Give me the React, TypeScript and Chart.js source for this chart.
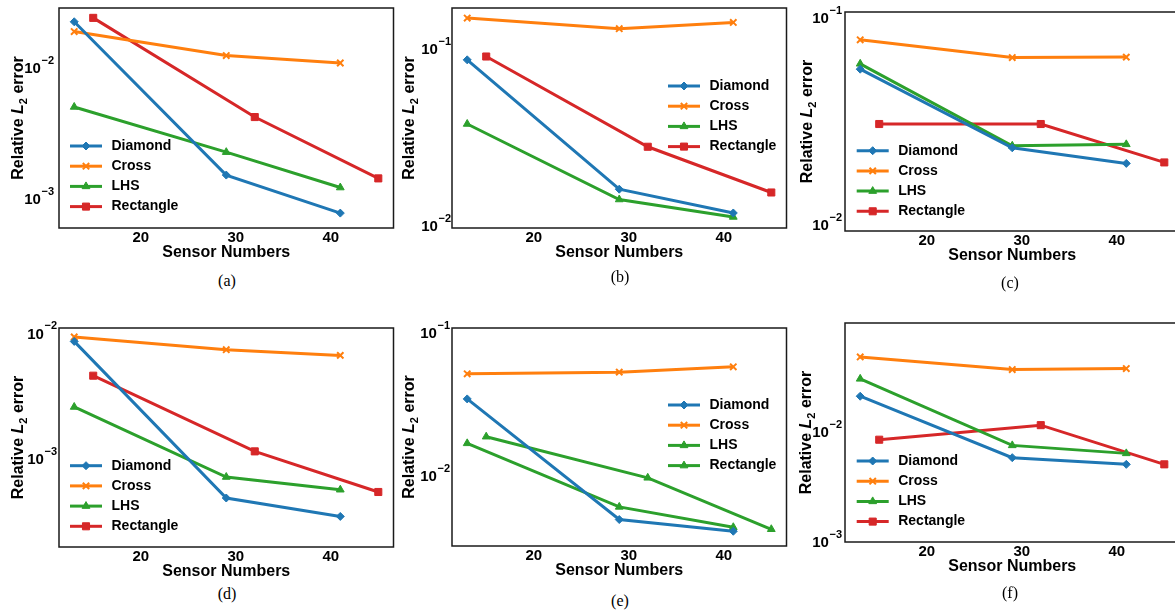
import React, { useEffect, useRef } from 'react';
import { Chart, registerables } from 'chart.js';
import { drawPoint } from 'chart.js/helpers';

Chart.register(...registerables);

const FAM = '"Liberation Sans", Arial, Helvetica, sans-serif';

// ---------- data ----------
const seriesNames = ['Diamond', 'Cross', 'LHS', 'Rectangle'];
const sensorsStd = [13, 29, 41];
const sensorsRect = [15, 32, 45];
const xTicks = [20, 30, 40];

// (a)
const aDiamond = [0.02227, 0.001517, 0.000779];
const aCross = [0.01875, 0.01232, 0.01081];
const aLHS = [0.005004, 0.002266, 0.001219];
const aRect = [0.02385, 0.004193, 0.001431];
// (b)
const bDiamond = [0.08687, 0.01616, 0.01186];
const bCross = [0.1496, 0.1302, 0.1413];
const bLHS = [0.03772, 0.01413, 0.01126];
const bRect = [0.0907, 0.02805, 0.01548];
// (c)
const cDiamond = [0.05651, 0.02352, 0.01976];
const cCross = [0.07845, 0.06435, 0.06465];
const cLHS = [0.05998, 0.02405, 0.02444];
const cRect = [0.03066, 0.03066, 0.01998];
// (d)
const dDiamond = [0.008636, 0.000488, 0.000348];
const dCross = [0.009361, 0.007415, 0.006679];
const dLHS = [0.002592, 0.000717, 0.000568];
const dRect = [0.004603, 0.001148, 0.000545];
// (e)
const eDiamond = [0.03458, 0.004951, 0.0041];
const eCross = [0.05182, 0.05324, 0.05801];
const eLHS = [0.0169, 0.006069, 0.004372];
const eRect = [0.01881, 0.009698, 0.004233];
// (f)
const fDiamond = [0.02118, 0.005821, 0.005058];
const fCross = [0.04841, 0.03709, 0.03788];
const fLHS = [0.03051, 0.007535, 0.00637];
const fRect = [0.008492, 0.01153, 0.005058];

// y tick values and their exponent labels (10^exp)
const yTicksA = [1e-2, 1e-3];
const yExpA = ['−2', '−3'];
const yTicksB = [1e-1, 1e-2];
const yExpB = ['−1', '−2'];

const captions = ['(a)', '(b)', '(c)', '(d)', '(e)', '(f)'];

// ---------- styles ----------
const STYLES: Record<string, any> = {
  Diamond: { color: '#1f77b4', pointStyle: 'rectRot', radius: 4, bw: 1 },
  Cross: { color: '#ff7f0e', pointStyle: 'crossRot', radius: 4.5, bw: 2 },
  LHS: { color: '#2ca02c', pointStyle: 'triangle', radius: 4.5, bw: 1 },
  Rectangle: { color: '#d62728', pointStyle: 'rect', radius: 5, bw: 1 },
};

const Y_AXIS_W = 59;
const X_AXIS_H = 34;
const PAD_T = 14;
const PAD_R = 4;

const panels = [
  { box: { l: 59, t: 8, r: 396, b: 228 }, yMinExp: -3.1885, yMaxExp: -1.5475, yTicks: yTicksA, yExp: yExpA,
    series: [aDiamond, aCross, aLHS, aRect], styles: ['Diamond', 'Cross', 'LHS', 'Rectangle'],
    legend: { dx: 11, dy: 138 }, yTitleOff: 42, yTickPad: 5, cap: { x: 227, y: 281 } },
  { box: { l: 452, t: 8, r: 789, b: 228 }, yMinExp: -2.0108, yMaxExp: -0.7684, yTicks: yTicksB, yExp: yExpB,
    series: [bDiamond, bCross, bLHS, bRect], styles: ['Diamond', 'Cross', 'LHS', 'Rectangle'],
    legend: { dx: 216, dy: 78 }, yTitleOff: 44, yTickPad: 1, cap: { x: 620, y: 277 } },
  { box: { l: 845, t: 12, r: 1182, b: 231 }, yMinExp: -2.0316, yMaxExp: -0.9709, yTicks: yTicksB, yExp: yExpB,
    series: [cDiamond, cCross, cLHS, cRect], styles: ['Diamond', 'Cross', 'LHS', 'Rectangle'],
    legend: { dx: 11.7, dy: 138.7 }, yTitleOff: 39, yTickPad: 3, cap: { x: 1010, y: 283 } },
  { box: { l: 59, t: 328, r: 396, b: 547 }, yMinExp: -3.702, yMaxExp: -1.957, yTicks: yTicksA, yExp: yExpA,
    series: [dDiamond, dCross, dLHS, dRect], styles: ['Diamond', 'Cross', 'LHS', 'Rectangle'],
    legend: { dx: 11, dy: 137.7 }, yTitleOff: 42, yTickPad: 2, cap: { x: 227, y: 594 } },
  { box: { l: 452, t: 328, r: 789, b: 546 }, yMinExp: -2.4905, yMaxExp: -0.9649, yTicks: yTicksB, yExp: yExpB,
    series: [eDiamond, eCross, eLHS, eRect], styles: ['Diamond', 'Cross', 'LHS', 'LHS'],
    legend: { dx: 216, dy: 77 }, yTitleOff: 44, yTickPad: 2, cap: { x: 620, y: 601 } },
  { box: { l: 845, t: 323, r: 1182, b: 542 }, yMinExp: -3.005, yMaxExp: -1.0055, yTicks: yTicksA, yExp: yExpA,
    series: [fDiamond, fCross, fLHS, fRect], styles: ['Diamond', 'Cross', 'LHS', 'Rectangle'],
    legend: { dx: 11.7, dy: 138 }, yTitleOff: 40, yTickPad: 3, cap: { x: 1010, y: 593 } },
];

// ---------- plugins ----------
const boxPlugin = {
  id: 'boxFrame',
  afterDraw(chart: any) {
    const { ctx, chartArea } = chart;
    ctx.save();
    ctx.strokeStyle = '#1a1a1a';
    ctx.lineWidth = 1.5;
    ctx.strokeRect(chartArea.left, chartArea.top, chartArea.right - chartArea.left, chartArea.bottom - chartArea.top);
    ctx.restore();
  },
};

const yTickPlugin = {
  id: 'yTickLabels',
  afterDraw(chart: any, _args: any, opts: any) {
    const { ctx, chartArea } = chart;
    const scale = chart.scales.y;
    ctx.save();
    ctx.fillStyle = '#000';
    ctx.textBaseline = 'alphabetic';
    ctx.textAlign = 'left';
    scale.ticks.forEach((t: any, i: number) => {
      const y = scale.getPixelForValue(t.value);
      const exp = opts.exps[i];
      ctx.font = `bold 11px ${FAM}`;
      const we = ctx.measureText(exp).width;
      ctx.font = `bold 15px ${FAM}`;
      const wb = ctx.measureText('10').width;
      const right = chartArea.left - opts.pad;
      const base = y + 5.4;
      ctx.fillText('10', right - we - wb - 0.5, base);
      ctx.font = `bold 11px ${FAM}`;
      ctx.fillText(exp, right - we, base - 9.3);
    });
    ctx.restore();
  },
};

const legendPlugin = {
  id: 'innerLegend',
  afterDraw(chart: any, _args: any, opts: any) {
    const { ctx, chartArea } = chart;
    const x0 = chartArea.left + opts.dx;
    const y0 = chartArea.top + opts.dy;
    chart.data.datasets.forEach((ds: any, i: number) => {
      const y = y0 + i * opts.gap;
      ctx.save();
      ctx.strokeStyle = ds.borderColor;
      ctx.lineWidth = 3;
      ctx.beginPath();
      ctx.moveTo(x0, y);
      ctx.lineTo(x0 + 32, y);
      ctx.stroke();
      ctx.fillStyle = ds.pointBackgroundColor;
      ctx.strokeStyle = ds.pointBorderColor;
      ctx.lineWidth = ds.pointBorderWidth;
      drawPoint(ctx, { pointStyle: ds.pointStyle, radius: ds.pointRadius, borderWidth: ds.pointBorderWidth, rotation: 0 } as any, x0 + 16, y);
      ctx.fillStyle = '#000';
      ctx.font = `bold 14px ${FAM}`;
      ctx.textBaseline = 'middle';
      ctx.textAlign = 'left';
      ctx.fillText(ds.label, x0 + 41.5, y);
      ctx.restore();
    });
  },
};

const yTitlePlugin = {
  id: 'yTitle',
  afterDraw(chart: any, _args: any, opts: any) {
    const { ctx, chartArea } = chart;
    const cx = chartArea.left - opts.offset;
    const cy = (chartArea.top + chartArea.bottom) / 2;
    const parts = [
      { t: 'Relative ', f: `bold 16px ${FAM}`, dy: 0 },
      { t: 'L', f: `italic bold 16px ${FAM}`, dy: 0 },
      { t: '2', f: `bold 11px ${FAM}`, dy: 4 },
      { t: ' error', f: `bold 16px ${FAM}`, dy: 0 },
    ];
    ctx.save();
    ctx.translate(cx, cy);
    ctx.rotate(-Math.PI / 2);
    let total = 0;
    const widths = parts.map((p) => {
      ctx.font = p.f;
      const w = ctx.measureText(p.t).width;
      total += w;
      return w;
    });
    let x = -total / 2;
    ctx.fillStyle = '#000';
    ctx.textBaseline = 'alphabetic';
    ctx.textAlign = 'left';
    parts.forEach((p, i) => {
      ctx.font = p.f;
      ctx.fillText(p.t, x, 5.8 + p.dy);
      x += widths[i];
    });
    ctx.restore();
  },
};

function Panel({ cfg, idx }: { cfg: any; idx: number }) {
  const ref = useRef<HTMLCanvasElement | null>(null);
  const left = cfg.box.l - Y_AXIS_W;
  const top = cfg.box.t - PAD_T;
  const width = cfg.box.r - cfg.box.l + Y_AXIS_W + PAD_R;
  const height = cfg.box.b - cfg.box.t + PAD_T + X_AXIS_H;

  useEffect(() => {
    if (!ref.current) return;
    const datasets = cfg.series.map((vals: number[], i: number) => {
      const st = STYLES[cfg.styles[i]];
      const xs = seriesNames[i] === 'Rectangle' ? sensorsRect : sensorsStd;
      return {
        label: seriesNames[i],
        data: xs.map((x, j) => ({ x, y: vals[j] })),
        borderColor: st.color,
        backgroundColor: st.color,
        borderWidth: 3,
        pointStyle: st.pointStyle,
        pointRadius: st.radius,
        pointBackgroundColor: st.color,
        pointBorderColor: st.color,
        pointBorderWidth: st.bw,
        tension: 0,
        fill: false,
      };
    });
    const chart = new Chart(ref.current, {
      type: 'line',
      data: { datasets },
      options: {
        animation: false,
        responsive: false,
        maintainAspectRatio: false,
        layout: { padding: { top: PAD_T, right: PAD_R, left: 0, bottom: 0 } },
        plugins: {
          legend: { display: false },
          tooltip: { enabled: false },
          innerLegend: { dx: cfg.legend.dx, dy: cfg.legend.dy, gap: 20.2 },
          yTitle: { offset: cfg.yTitleOff },
          yTickLabels: { exps: cfg.yExp, pad: cfg.yTickPad },
        } as any,
        scales: {
          x: {
            type: 'linear',
            min: 11.4,
            max: 46.6,
            afterBuildTicks: (s: any) => {
              s.ticks = xTicks.map((v) => ({ value: v }));
            },
            afterFit: (s: any) => {
              s.height = X_AXIS_H;
            },
            grid: { display: false, drawTicks: false },
            border: { display: false },
            ticks: {
              color: '#000',
              font: { family: FAM, size: 15, weight: 'bold' },
              padding: 1,
              maxRotation: 0,
              autoSkip: false,
            },
            title: {
              display: true,
              text: 'Sensor Numbers',
              color: '#000',
              font: { family: FAM, size: 16, weight: 'bold' },
              padding: 0,
            },
          },
          y: {
            type: 'logarithmic',
            min: Math.pow(10, cfg.yMinExp),
            max: Math.pow(10, cfg.yMaxExp),
            afterBuildTicks: (s: any) => {
              s.ticks = cfg.yTicks.map((v: number) => ({ value: v }));
            },
            afterFit: (s: any) => {
              s.width = Y_AXIS_W;
            },
            grid: { display: false, drawTicks: false },
            border: { display: false },
            ticks: { display: false, autoSkip: false },
          },
        } as any,
      },
      plugins: [boxPlugin, yTickPlugin, legendPlugin, yTitlePlugin],
    });
    return () => chart.destroy();
  }, []);

  return (
    <>
      <canvas
        ref={ref}
        width={width}
        height={height}
        style={{ position: 'absolute', left, top, width, height }}
      />
      <div
        style={{
          position: 'absolute',
          left: cfg.cap.x - 40,
          top: cfg.cap.y - 10,
          width: 80,
          height: 20,
          lineHeight: '20px',
          textAlign: 'center',
          fontFamily: '"Liberation Serif", "Times New Roman", serif',
          fontSize: 16,
          color: '#000',
        }}
      >
        {captions[idx]}
      </div>
    </>
  );
}

export default function App() {
  return (
    <div
      style={{
        position: 'fixed',
        left: 0,
        top: 0,
        width: 1175,
        height: 612,
        overflow: 'hidden',
        background: '#fff',
      }}
    >
      {panels.map((p, i) => (
        <Panel key={i} cfg={p} idx={i} />
      ))}
    </div>
  );
}
